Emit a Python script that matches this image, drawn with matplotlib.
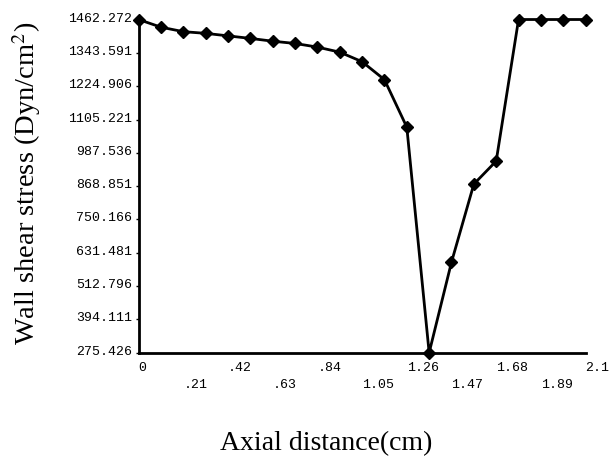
import matplotlib
matplotlib.use('Agg')
import matplotlib.pyplot as plt
import matplotlib.transforms as mtransforms
import numpy as np

plt.rcParams['mathtext.fontset'] = 'stix'

# axial positions (cm) and wall shear stress (Dyn/cm^2)
x_pos = [0, 0.105, 0.21, 0.315, 0.42, 0.525, 0.63, 0.735, 0.84, 0.945, 1.05,
         1.155, 1.26, 1.365, 1.47, 1.575, 1.68, 1.785, 1.89, 1.995, 2.1]
stress = [1462.272, 1435, 1419, 1413, 1404, 1395, 1385, 1377, 1364, 1346, 1312,
          1248, 1079, 275.426, 598, 876, 958, 1462.272, 1462.272, 1462.272, 1462.272]

x_ticks = [0, 0.21, 0.42, 0.63, 0.84, 1.05, 1.26, 1.47, 1.68, 1.89, 2.1]
x_labels = ['0', '.21', '.42', '.63', '.84', '1.05', '1.26', '1.47', '1.68', '1.89', '2.1']
y_ticks = [275.426, 394.111, 512.796, 631.481, 750.166, 868.851,
           987.536, 1105.221, 1224.906, 1343.591, 1462.272]
y_labels = ['275.426', '394.111', '512.796', '631.481', '750.166', '868.851',
            '987.536', '1105.221', '1224.906', '1343.591', '1462.272']

fig = plt.figure(figsize=(6.1, 4.58), dpi=100)
ax = fig.add_axes([0.2272, 0.2299, 0.7328, 0.7275])

ax.plot(x_pos, stress, color='black', lw=2, marker='D', ms=6.5,
        markerfacecolor='black', markeredgecolor='black', clip_on=False, zorder=3)

ax.set_xlim(0, 2.1)
ax.set_ylim(275.426, 1462.272)

for s in ['top', 'right']:
    ax.spines[s].set_visible(False)
for s in ['left', 'bottom']:
    ax.spines[s].set_linewidth(2)

mono = 'Liberation Mono'
ax.set_xticks(x_ticks)
ax.set_xticklabels(x_labels, fontfamily=mono, fontsize=9.5, ha='left')
ax.tick_params(axis='x', which='major', length=0, pad=7)
ax.set_xticks(x_ticks[1::2], minor=True)
ax.tick_params(axis='x', which='minor', length=5, width=1, color='#aaaaaa')
for i, t in enumerate(ax.xaxis.get_major_ticks()):
    if i % 2 == 1:
        t.set_pad(19)

ax.set_yticks(y_ticks)
ax.set_yticklabels(y_labels, fontfamily=mono, fontsize=9.5)
ax.tick_params(axis='y', length=2, width=1, pad=2.5)
shift = mtransforms.ScaledTranslation(0, 2.5 / 100, fig.dpi_scale_trans)
for lab in ax.get_yticklabels():
    lab.set_transform(lab.get_transform() + shift)

fig.text(0.534, 0.031, 'Axial distance(cm)', fontfamily='Liberation Serif',
         fontsize=20, ha='center', va='center')
fig.text(0.044, 0.6, 'Wall shear stress (Dyn/cm$^2$)', fontfamily='Liberation Serif',
         fontsize=20.5, ha='center', va='center', rotation=90)

plt.savefig('out.png', dpi=100)
